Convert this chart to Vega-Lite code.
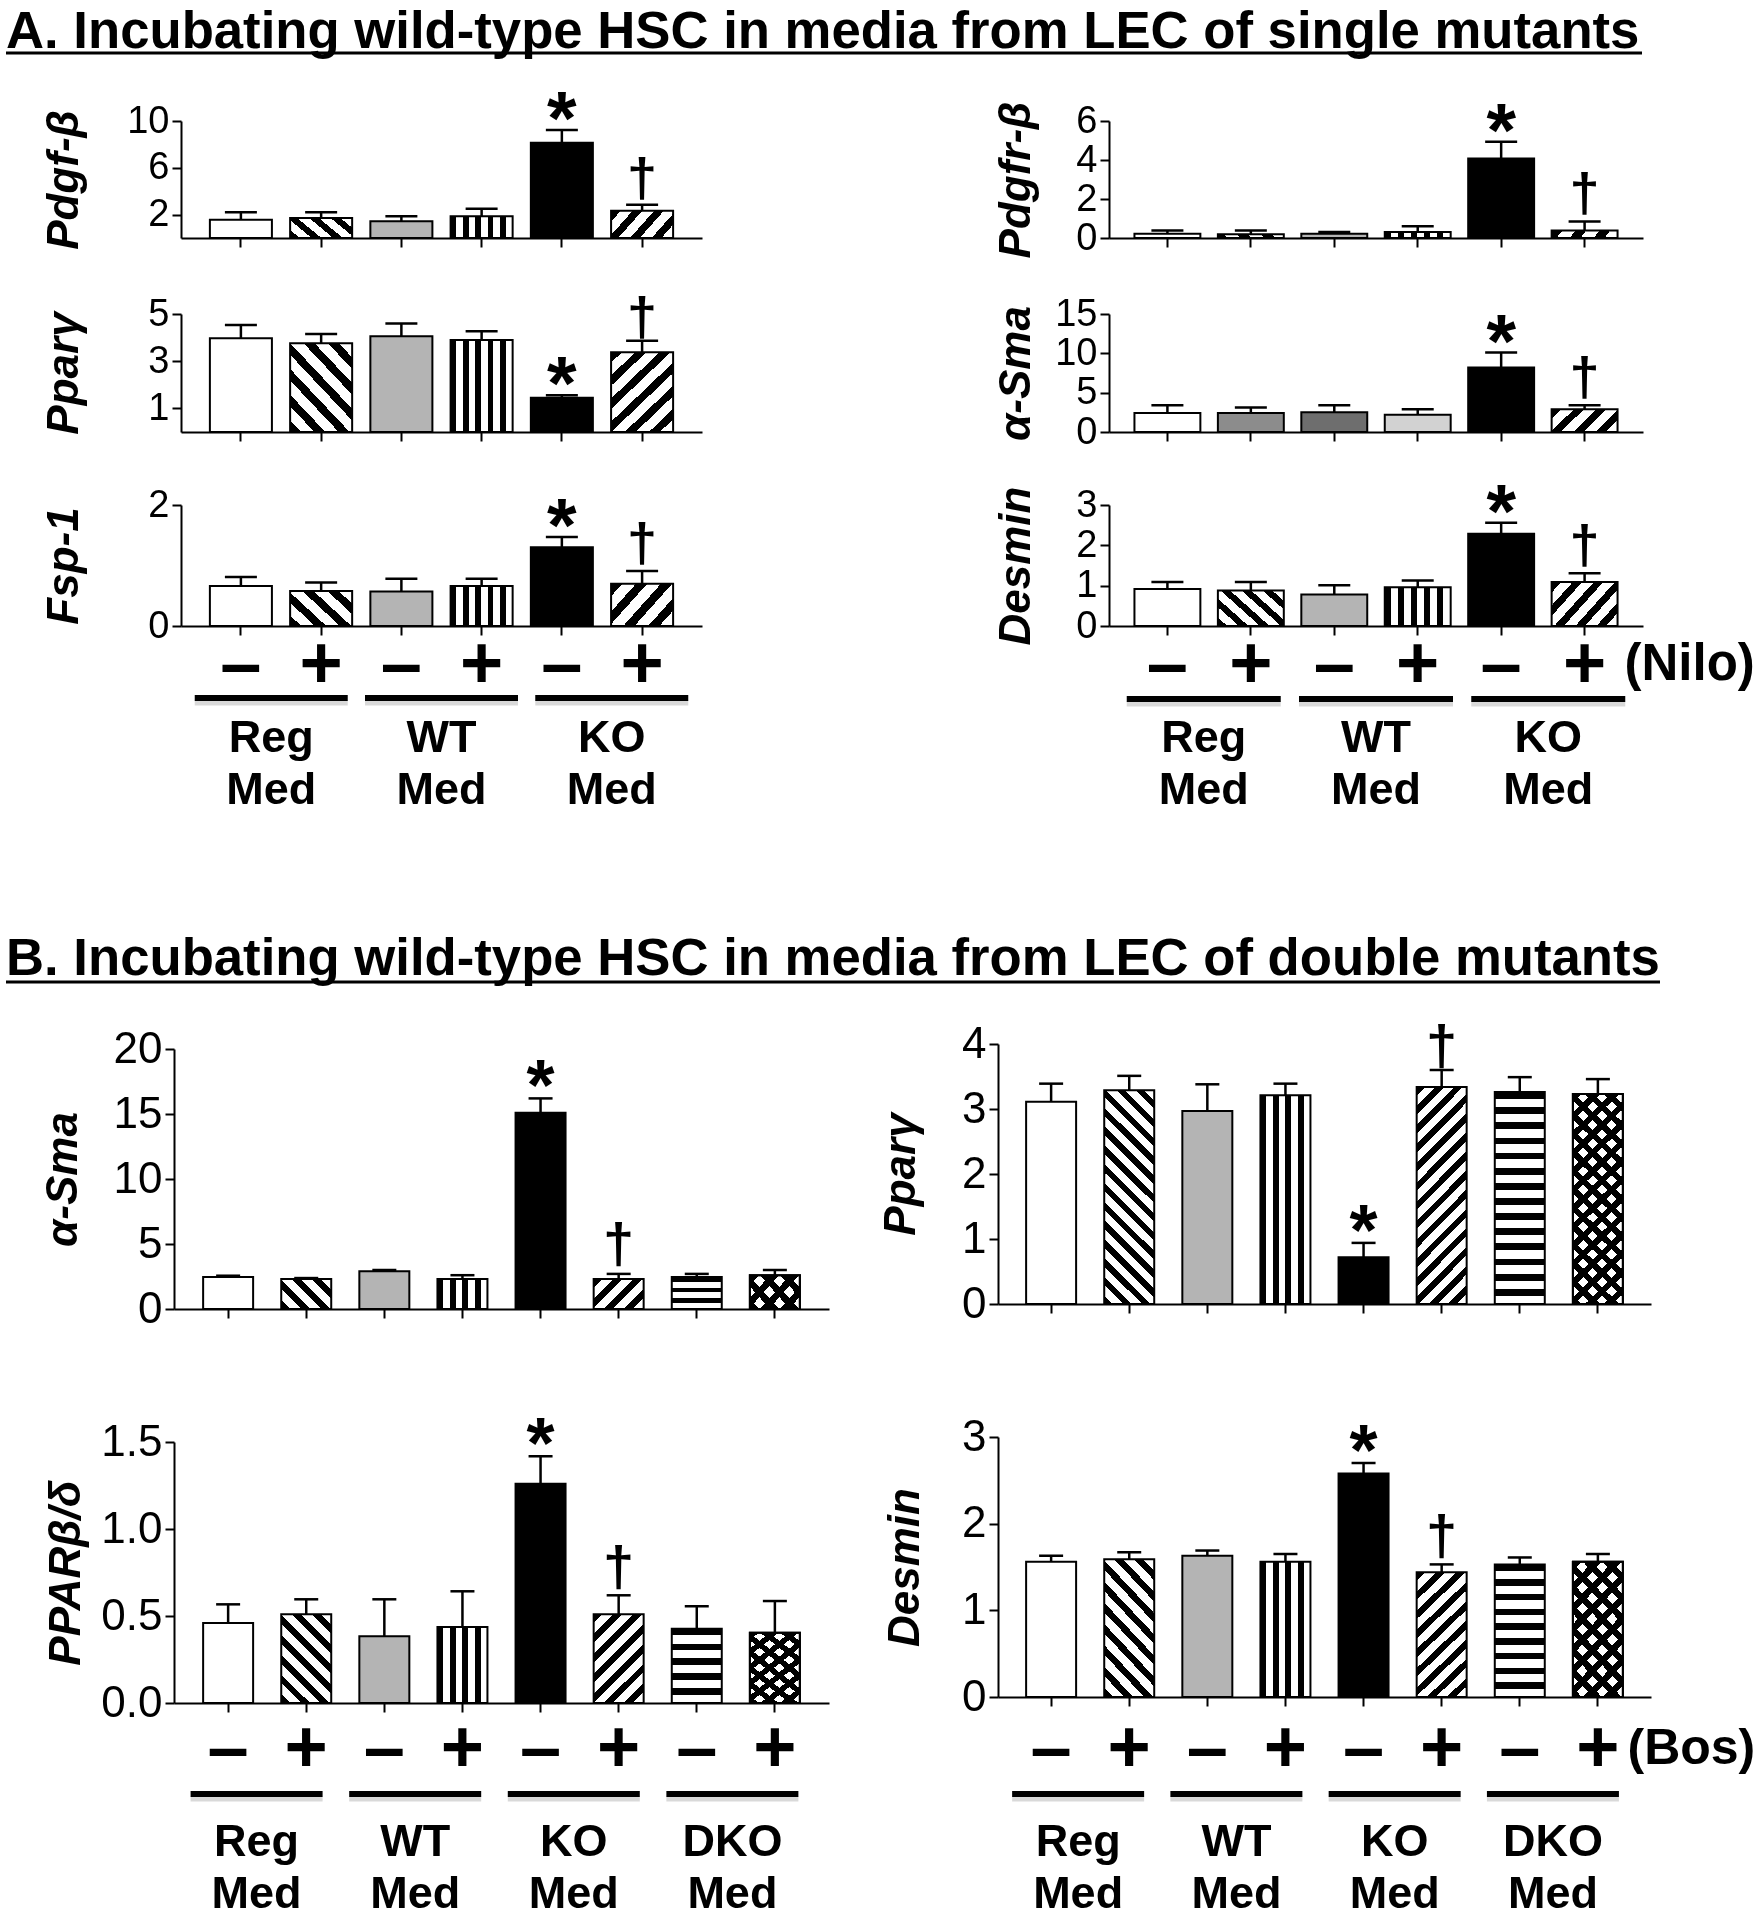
{
"$schema": "https://vega.github.io/schema/vega-lite/v6.json",
"width": 1760, "height": 1920,
"autosize": {"type": "none"},
"padding": 0,
"background": "#ffffff",
"config": {
  "view": {"stroke": null},
  "font": "Liberation Sans",
  "tick": {"opacity": 1},
  "axis": {"domainColor": "#000", "domainWidth": 2, "tickColor": "#000", "tickWidth": 2, "tickSize": 9, "labelColor": "#000", "titleColor": "#000", "grid": false, "labelFont": "Liberation Sans", "titleFont": "Liberation Sans", "labelOverlap": false},
  "axisY": {"titleFontSize": 44, "titleFontWeight": "bold", "titleFontStyle": "italic", "titleBaseline": "alphabetic", "labelFontSize": 38, "labelPadding": 3},
  "axisX": {"labelFontSize": 74, "labelFontWeight": "bold", "labelAngle": 0, "labelBaseline": "middle", "labelBound": false}
},
"params": [
  {"name": "s3", "value": [{"offset":0,"color":"#000"},{"offset":0.15,"color":"#000"},{"offset":0.15,"color":"#fff"},{"offset":0.3333,"color":"#fff"},{"offset":0.3333,"color":"#000"},{"offset":0.4833,"color":"#000"},{"offset":0.4833,"color":"#fff"},{"offset":0.6667,"color":"#fff"},{"offset":0.6667,"color":"#000"},{"offset":0.8167,"color":"#000"},{"offset":0.8167,"color":"#fff"},{"offset":1,"color":"#fff"}]},
  {"name": "s4", "value": [{"offset":0,"color":"#000"},{"offset":0.1125,"color":"#000"},{"offset":0.1125,"color":"#fff"},{"offset":0.25,"color":"#fff"},{"offset":0.25,"color":"#000"},{"offset":0.3625,"color":"#000"},{"offset":0.3625,"color":"#fff"},{"offset":0.5,"color":"#fff"},{"offset":0.5,"color":"#000"},{"offset":0.6125,"color":"#000"},{"offset":0.6125,"color":"#fff"},{"offset":0.75,"color":"#fff"},{"offset":0.75,"color":"#000"},{"offset":0.8625,"color":"#000"},{"offset":0.8625,"color":"#fff"},{"offset":1,"color":"#fff"}]},
  {"name": "s5", "value": [{"offset":0,"color":"#000"},{"offset":0.09,"color":"#000"},{"offset":0.09,"color":"#fff"},{"offset":0.2,"color":"#fff"},{"offset":0.2,"color":"#000"},{"offset":0.29,"color":"#000"},{"offset":0.29,"color":"#fff"},{"offset":0.4,"color":"#fff"},{"offset":0.4,"color":"#000"},{"offset":0.49,"color":"#000"},{"offset":0.49,"color":"#fff"},{"offset":0.6,"color":"#fff"},{"offset":0.6,"color":"#000"},{"offset":0.69,"color":"#000"},{"offset":0.69,"color":"#fff"},{"offset":0.8,"color":"#fff"},{"offset":0.8,"color":"#000"},{"offset":0.89,"color":"#000"},{"offset":0.89,"color":"#fff"},{"offset":1,"color":"#fff"}]},
  {"name": "s6", "value": [{"offset":0,"color":"#000"},{"offset":0.075,"color":"#000"},{"offset":0.075,"color":"#fff"},{"offset":0.1667,"color":"#fff"},{"offset":0.1667,"color":"#000"},{"offset":0.2417,"color":"#000"},{"offset":0.2417,"color":"#fff"},{"offset":0.3333,"color":"#fff"},{"offset":0.3333,"color":"#000"},{"offset":0.4083,"color":"#000"},{"offset":0.4083,"color":"#fff"},{"offset":0.5,"color":"#fff"},{"offset":0.5,"color":"#000"},{"offset":0.575,"color":"#000"},{"offset":0.575,"color":"#fff"},{"offset":0.6667,"color":"#fff"},{"offset":0.6667,"color":"#000"},{"offset":0.7417,"color":"#000"},{"offset":0.7417,"color":"#fff"},{"offset":0.8333,"color":"#fff"},{"offset":0.8333,"color":"#000"},{"offset":0.9083,"color":"#000"},{"offset":0.9083,"color":"#fff"},{"offset":1,"color":"#fff"}]},
  {"name": "s7", "value": [{"offset":0,"color":"#000"},{"offset":0.0643,"color":"#000"},{"offset":0.0643,"color":"#fff"},{"offset":0.1429,"color":"#fff"},{"offset":0.1429,"color":"#000"},{"offset":0.2071,"color":"#000"},{"offset":0.2071,"color":"#fff"},{"offset":0.2857,"color":"#fff"},{"offset":0.2857,"color":"#000"},{"offset":0.35,"color":"#000"},{"offset":0.35,"color":"#fff"},{"offset":0.4286,"color":"#fff"},{"offset":0.4286,"color":"#000"},{"offset":0.4929,"color":"#000"},{"offset":0.4929,"color":"#fff"},{"offset":0.5714,"color":"#fff"},{"offset":0.5714,"color":"#000"},{"offset":0.6357,"color":"#000"},{"offset":0.6357,"color":"#fff"},{"offset":0.7143,"color":"#fff"},{"offset":0.7143,"color":"#000"},{"offset":0.7786,"color":"#000"},{"offset":0.7786,"color":"#fff"},{"offset":0.8571,"color":"#fff"},{"offset":0.8571,"color":"#000"},{"offset":0.9214,"color":"#000"},{"offset":0.9214,"color":"#fff"},{"offset":1,"color":"#fff"}]},
  {"name": "s9", "value": [{"offset":0,"color":"#000"},{"offset":0.05,"color":"#000"},{"offset":0.05,"color":"#fff"},{"offset":0.1111,"color":"#fff"},{"offset":0.1111,"color":"#000"},{"offset":0.1611,"color":"#000"},{"offset":0.1611,"color":"#fff"},{"offset":0.2222,"color":"#fff"},{"offset":0.2222,"color":"#000"},{"offset":0.2722,"color":"#000"},{"offset":0.2722,"color":"#fff"},{"offset":0.3333,"color":"#fff"},{"offset":0.3333,"color":"#000"},{"offset":0.3833,"color":"#000"},{"offset":0.3833,"color":"#fff"},{"offset":0.4444,"color":"#fff"},{"offset":0.4444,"color":"#000"},{"offset":0.4944,"color":"#000"},{"offset":0.4944,"color":"#fff"},{"offset":0.5556,"color":"#fff"},{"offset":0.5556,"color":"#000"},{"offset":0.6056,"color":"#000"},{"offset":0.6056,"color":"#fff"},{"offset":0.6667,"color":"#fff"},{"offset":0.6667,"color":"#000"},{"offset":0.7167,"color":"#000"},{"offset":0.7167,"color":"#fff"},{"offset":0.7778,"color":"#fff"},{"offset":0.7778,"color":"#000"},{"offset":0.8278,"color":"#000"},{"offset":0.8278,"color":"#fff"},{"offset":0.8889,"color":"#fff"},{"offset":0.8889,"color":"#000"},{"offset":0.9389,"color":"#000"},{"offset":0.9389,"color":"#fff"},{"offset":1,"color":"#fff"}]},
  {"name": "s14", "value": [{"offset":0,"color":"#000"},{"offset":0.0321,"color":"#000"},{"offset":0.0321,"color":"#fff"},{"offset":0.0714,"color":"#fff"},{"offset":0.0714,"color":"#000"},{"offset":0.1036,"color":"#000"},{"offset":0.1036,"color":"#fff"},{"offset":0.1429,"color":"#fff"},{"offset":0.1429,"color":"#000"},{"offset":0.175,"color":"#000"},{"offset":0.175,"color":"#fff"},{"offset":0.2143,"color":"#fff"},{"offset":0.2143,"color":"#000"},{"offset":0.2464,"color":"#000"},{"offset":0.2464,"color":"#fff"},{"offset":0.2857,"color":"#fff"},{"offset":0.2857,"color":"#000"},{"offset":0.3179,"color":"#000"},{"offset":0.3179,"color":"#fff"},{"offset":0.3571,"color":"#fff"},{"offset":0.3571,"color":"#000"},{"offset":0.3893,"color":"#000"},{"offset":0.3893,"color":"#fff"},{"offset":0.4286,"color":"#fff"},{"offset":0.4286,"color":"#000"},{"offset":0.4607,"color":"#000"},{"offset":0.4607,"color":"#fff"},{"offset":0.5,"color":"#fff"},{"offset":0.5,"color":"#000"},{"offset":0.5321,"color":"#000"},{"offset":0.5321,"color":"#fff"},{"offset":0.5714,"color":"#fff"},{"offset":0.5714,"color":"#000"},{"offset":0.6036,"color":"#000"},{"offset":0.6036,"color":"#fff"},{"offset":0.6429,"color":"#fff"},{"offset":0.6429,"color":"#000"},{"offset":0.675,"color":"#000"},{"offset":0.675,"color":"#fff"},{"offset":0.7143,"color":"#fff"},{"offset":0.7143,"color":"#000"},{"offset":0.7464,"color":"#000"},{"offset":0.7464,"color":"#fff"},{"offset":0.7857,"color":"#fff"},{"offset":0.7857,"color":"#000"},{"offset":0.8179,"color":"#000"},{"offset":0.8179,"color":"#fff"},{"offset":0.8571,"color":"#fff"},{"offset":0.8571,"color":"#000"},{"offset":0.8893,"color":"#000"},{"offset":0.8893,"color":"#fff"},{"offset":0.9286,"color":"#fff"},{"offset":0.9286,"color":"#000"},{"offset":0.9607,"color":"#000"},{"offset":0.9607,"color":"#fff"},{"offset":1,"color":"#fff"}]},
  {"name": "vA", "expr": "{gradient:'linear',x1:0,y1:0,x2:1,y2:0,stops:s5}"},
  {"name": "vB", "expr": "{gradient:'linear',x1:0,y1:0,x2:1,y2:0,stops:s4}"},
  {"name": "dA1L", "expr": "{gradient:'linear',x1:0,y1:1,x2:1.207,y2:0.529,stops:s4}"},
  {"name": "uA1L", "expr": "{gradient:'linear',x1:0,y1:0,x2:1.207,y2:0.471,stops:s4}"},
  {"name": "dA2L", "expr": "{gradient:'linear',x1:0,y1:1,x2:0.833,y2:-0.124,stops:s6}"},
  {"name": "uA2L", "expr": "{gradient:'linear',x1:0,y1:0,x2:0.833,y2:1.124,stops:s6}"},
  {"name": "dA3L", "expr": "{gradient:'linear',x1:0,y1:1,x2:1.173,y2:0.284,stops:s4}"},
  {"name": "uA3L", "expr": "{gradient:'linear',x1:0,y1:0,x2:1.173,y2:0.716,stops:s4}"},
  {"name": "dA1R", "expr": "{gradient:'linear',x1:0,y1:1,x2:1.081,y2:0.903,stops:s3}"},
  {"name": "uA1R", "expr": "{gradient:'linear',x1:0,y1:0,x2:1.081,y2:0.097,stops:s3}"},
  {"name": "uA2R", "expr": "{gradient:'linear',x1:0,y1:0,x2:1.203,y2:0.421,stops:s4}"},
  {"name": "dA3R", "expr": "{gradient:'linear',x1:0,y1:1,x2:1.176,y2:0.294,stops:s5}"},
  {"name": "uA3R", "expr": "{gradient:'linear',x1:0,y1:0,x2:1.176,y2:0.706,stops:s5}"},
  {"name": "dB1L", "expr": "{gradient:'linear',x1:0,y1:1,x2:1.176,y2:0.294,stops:s4}"},
  {"name": "uB1L", "expr": "{gradient:'linear',x1:0,y1:0,x2:1.176,y2:0.706,stops:s4}"},
  {"name": "hB1L", "expr": "{gradient:'linear',x1:0.5,y1:0,x2:0.5,y2:1,stops:s3}"},
  {"name": "dB1R", "expr": "{gradient:'linear',x1:0,y1:1,x2:0.272,y2:-0.169,stops:s14}"},
  {"name": "uB1R", "expr": "{gradient:'linear',x1:0,y1:0,x2:0.272,y2:1.169,stops:s14}"},
  {"name": "hB1R", "expr": "{gradient:'linear',x1:0.5,y1:0,x2:0.5,y2:1,stops:s14}"},
  {"name": "dB2L", "expr": "{gradient:'linear',x1:0,y1:1,x2:0.667,y2:-0.187,stops:s7}"},
  {"name": "uB2L", "expr": "{gradient:'linear',x1:0,y1:0,x2:0.667,y2:1.187,stops:s7}"},
  {"name": "hB2L", "expr": "{gradient:'linear',x1:0.5,y1:0,x2:0.5,y2:1,stops:s5}"},
  {"name": "dB2R", "expr": "{gradient:'linear',x1:0,y1:1,x2:0.464,y2:-0.206,stops:s9}"},
  {"name": "uB2R", "expr": "{gradient:'linear',x1:0,y1:0,x2:0.464,y2:1.206,stops:s9}"},
  {"name": "hB2R", "expr": "{gradient:'linear',x1:0.5,y1:0,x2:0.5,y2:1,stops:s9}"}
],
"datasets": {
  "titles": [
    {"sec": "A", "txt": "A. Incubating wild-type HSC in media from LEC of single mutants"},
    {"sec": "B", "txt": "B. Incubating wild-type HSC in media from LEC of double mutants"}
  ],
  "groups": [
    {"sec": "A", "g": "Reg", "lab": "Reg\nMed"},
    {"sec": "A", "g": "WT", "lab": "WT\nMed"},
    {"sec": "A", "g": "KO", "lab": "KO\nMed"},
    {"sec": "B", "g": "Reg", "lab": "Reg\nMed"},
    {"sec": "B", "g": "WT", "lab": "WT\nMed"},
    {"sec": "B", "g": "KO", "lab": "KO\nMed"},
    {"sec": "B", "g": "DKO", "lab": "DKO\nMed"}
  ],
  "bars": [
    {"p":"A1L","c":"Reg-","m":1.57,"e":2.2,"s":""},
    {"p":"A1L","c":"Reg+","m":1.71,"e":2.2,"s":""},
    {"p":"A1L","c":"WT-","m":1.43,"e":1.85,"s":""},
    {"p":"A1L","c":"WT+","m":1.85,"e":2.5,"s":""},
    {"p":"A1L","c":"KO-","m":8.15,"e":9.24,"s":"*"},
    {"p":"A1L","c":"KO+","m":2.33,"e":2.84,"s":"†"},
    {"p":"A2L","c":"Reg-","m":3.97,"e":4.53,"s":""},
    {"p":"A2L","c":"Reg+","m":3.76,"e":4.15,"s":""},
    {"p":"A2L","c":"WT-","m":4.06,"e":4.6,"s":""},
    {"p":"A2L","c":"WT+","m":3.9,"e":4.27,"s":""},
    {"p":"A2L","c":"KO-","m":1.45,"e":1.56,"s":"*"},
    {"p":"A2L","c":"KO+","m":3.38,"e":3.87,"s":"†"},
    {"p":"A3L","c":"Reg-","m":0.66,"e":0.81,"s":""},
    {"p":"A3L","c":"Reg+","m":0.58,"e":0.72,"s":""},
    {"p":"A3L","c":"WT-","m":0.57,"e":0.78,"s":""},
    {"p":"A3L","c":"WT+","m":0.66,"e":0.78,"s":""},
    {"p":"A3L","c":"KO-","m":1.3,"e":1.47,"s":"*"},
    {"p":"A3L","c":"KO+","m":0.7,"e":0.91,"s":"†"},
    {"p":"A1R","c":"Reg-","m":0.22,"e":0.39,"s":""},
    {"p":"A1R","c":"Reg+","m":0.19,"e":0.39,"s":""},
    {"p":"A1R","c":"WT-","m":0.22,"e":0.31,"s":""},
    {"p":"A1R","c":"WT+","m":0.31,"e":0.6,"s":""},
    {"p":"A1R","c":"KO-","m":4.08,"e":4.93,"s":"*"},
    {"p":"A1R","c":"KO+","m":0.39,"e":0.85,"s":"†"},
    {"p":"A2R","c":"Reg-","m":2.4,"e":3.4,"s":""},
    {"p":"A2R","c":"Reg+","m":2.4,"e":3.1,"s":""},
    {"p":"A2R","c":"WT-","m":2.5,"e":3.4,"s":""},
    {"p":"A2R","c":"WT+","m":2.2,"e":2.9,"s":""},
    {"p":"A2R","c":"KO-","m":8.2,"e":10.1,"s":"*"},
    {"p":"A2R","c":"KO+","m":2.9,"e":3.4,"s":"†"},
    {"p":"A3R","c":"Reg-","m":0.92,"e":1.09,"s":""},
    {"p":"A3R","c":"Reg+","m":0.88,"e":1.09,"s":""},
    {"p":"A3R","c":"WT-","m":0.78,"e":1.01,"s":""},
    {"p":"A3R","c":"WT+","m":0.96,"e":1.13,"s":""},
    {"p":"A3R","c":"KO-","m":2.29,"e":2.56,"s":"*"},
    {"p":"A3R","c":"KO+","m":1.09,"e":1.31,"s":"†"},
    {"p":"B1L","c":"Reg-","m":2.46,"e":2.56,"s":""},
    {"p":"B1L","c":"Reg+","m":2.31,"e":2.38,"s":""},
    {"p":"B1L","c":"WT-","m":2.9,"e":3.0,"s":""},
    {"p":"B1L","c":"WT+","m":2.31,"e":2.6,"s":""},
    {"p":"B1L","c":"KO-","m":15.1,"e":16.2,"s":"*"},
    {"p":"B1L","c":"KO+","m":2.31,"e":2.7,"s":"†"},
    {"p":"B1L","c":"DKO-","m":2.46,"e":2.7,"s":""},
    {"p":"B1L","c":"DKO+","m":2.6,"e":3.0,"s":""},
    {"p":"B1R","c":"Reg-","m":3.11,"e":3.39,"s":""},
    {"p":"B1R","c":"Reg+","m":3.29,"e":3.51,"s":""},
    {"p":"B1R","c":"WT-","m":2.97,"e":3.38,"s":""},
    {"p":"B1R","c":"WT+","m":3.21,"e":3.39,"s":""},
    {"p":"B1R","c":"KO-","m":0.72,"e":0.94,"s":"*"},
    {"p":"B1R","c":"KO+","m":3.34,"e":3.6,"s":"†"},
    {"p":"B1R","c":"DKO-","m":3.26,"e":3.49,"s":""},
    {"p":"B1R","c":"DKO+","m":3.23,"e":3.46,"s":""},
    {"p":"B2L","c":"Reg-","m":0.46,"e":0.567,"s":""},
    {"p":"B2L","c":"Reg+","m":0.51,"e":0.596,"s":""},
    {"p":"B2L","c":"WT-","m":0.383,"e":0.596,"s":""},
    {"p":"B2L","c":"WT+","m":0.437,"e":0.642,"s":""},
    {"p":"B2L","c":"KO-","m":1.26,"e":1.418,"s":"*"},
    {"p":"B2L","c":"KO+","m":0.51,"e":0.619,"s":"†"},
    {"p":"B2L","c":"DKO-","m":0.427,"e":0.556,"s":""},
    {"p":"B2L","c":"DKO+","m":0.404,"e":0.586,"s":""},
    {"p":"B2R","c":"Reg-","m":1.56,"e":1.63,"s":""},
    {"p":"B2R","c":"Reg+","m":1.59,"e":1.67,"s":""},
    {"p":"B2R","c":"WT-","m":1.63,"e":1.69,"s":""},
    {"p":"B2R","c":"WT+","m":1.56,"e":1.65,"s":""},
    {"p":"B2R","c":"KO-","m":2.58,"e":2.7,"s":"*"},
    {"p":"B2R","c":"KO+","m":1.44,"e":1.53,"s":"†"},
    {"p":"B2R","c":"DKO-","m":1.53,"e":1.61,"s":""},
    {"p":"B2R","c":"DKO+","m":1.56,"e":1.65,"s":""}
  ]
},
"resolve": {"scale": {"x": "independent", "y": "independent"}, "axis": {"x": "independent", "y": "independent"}},
"layer": [
  {
    "data": {"name": "titles"},
    "transform": [{"filter": "datum.sec==='A'"}],
    "encoding": {
      "x": {"datum": 0, "type": "quantitative", "scale": {"domain": [0, 1], "range": [6, 1642], "nice": false, "zero": false}, "axis": null},
      "y": {"datum": 0, "type": "quantitative", "scale": {"domain": [0, 1], "range": [53, 0], "nice": false}, "axis": null}
    },
    "layer": [
      {"mark": {"type": "text", "align": "left", "baseline": "alphabetic", "dy": -5, "fontSize": 52.7, "fontWeight": "bold"}, "encoding": {"text": {"field": "txt"}}},
      {"mark": {"type": "rule", "strokeWidth": 3, "color": "#000"}, "encoding": {"x2": {"datum": 1}}}
    ]
  },
  {
    "data": {"name": "titles"},
    "transform": [{"filter": "datum.sec==='B'"}],
    "encoding": {
      "x": {"datum": 0, "type": "quantitative", "scale": {"domain": [0, 1], "range": [6, 1660], "nice": false, "zero": false}, "axis": null},
      "y": {"datum": 0, "type": "quantitative", "scale": {"domain": [0, 1], "range": [982, 930], "nice": false}, "axis": null}
    },
    "layer": [
      {"mark": {"type": "text", "align": "left", "baseline": "alphabetic", "dy": -7, "fontSize": 52.7, "fontWeight": "bold"}, "encoding": {"text": {"field": "txt"}}},
      {"mark": {"type": "rule", "strokeWidth": 3, "color": "#000"}, "encoding": {"x2": {"datum": 1}}}
    ]
  },
  {
    "data": {"name": "bars"},
    "transform": [{"filter": "datum.p==='A1L'"}],
    "encoding": {
      "x": {"field": "c", "type": "nominal", "scale": {"domain": ["Reg-","Reg+","WT-","WT+","KO-","KO+"], "range": [181, 702], "paddingInner": 0.227, "paddingOuter": 0.36}, "axis": {"orient": "bottom", "offset": -1682, "labels": false, "title": null}},
      "y": {"field": "m", "type": "quantitative", "scale": {"domain": [0, 10], "range": [238, 121], "nice": false}, "axis": {"orient": "left", "offset": -181, "values": [2, 6, 10], "format": "d", "title": "Pdgf-β", "titleX": -104, "titleY": 179.5}}
    },
    "layer": [
      {"mark": {"type": "rule", "color": "#000", "strokeWidth": 2.5}, "encoding": {"y2": {"field": "e"}}},
      {"mark": {"type": "bar", "stroke": "#000", "strokeWidth": 2}, "encoding": {"fill": {"condition": [
        {"test": "datum.c==='Reg+'", "value": {"expr": "dA1L"}},
        {"test": "datum.c==='WT-'", "value": "#b4b4b4"},
        {"test": "datum.c==='WT+'", "value": {"expr": "vA"}},
        {"test": "datum.c==='KO-'", "value": "#000"},
        {"test": "datum.c==='KO+'", "value": {"expr": "uA1L"}}], "value": "#fff"}}},
      {"mark": {"type": "tick", "orient": "horizontal", "size": 32, "thickness": 2.5, "color": "#000"}, "encoding": {"y": {"field": "e", "type": "quantitative"}}},
      {"transform": [{"filter": "datum.s==='*'"}], "mark": {"type": "text", "text": "*", "fontSize": 76, "fontWeight": "bold", "baseline": "alphabetic", "dy": 14}, "encoding": {"y": {"field": "e", "type": "quantitative"}}},
      {"transform": [{"filter": "datum.s==='†'"}], "mark": {"type": "text", "text": "†", "fontSize": 54, "fontWeight": "bold", "baseline": "alphabetic", "dy": -9}, "encoding": {"y": {"field": "e", "type": "quantitative"}}}
    ]
  },
  {
    "data": {"name": "bars"},
    "transform": [{"filter": "datum.p==='A2L'"}],
    "encoding": {
      "x": {"field": "c", "type": "nominal", "scale": {"domain": ["Reg-","Reg+","WT-","WT+","KO-","KO+"], "range": [181, 702], "paddingInner": 0.227, "paddingOuter": 0.36}, "axis": {"orient": "bottom", "offset": -1488, "labels": false, "title": null}},
      "y": {"field": "m", "type": "quantitative", "scale": {"domain": [0, 5], "range": [432, 314], "nice": false}, "axis": {"orient": "left", "offset": -181, "values": [1, 3, 5], "format": "d", "title": "Pparγ", "titleX": -104, "titleY": 373}}
    },
    "layer": [
      {"mark": {"type": "rule", "color": "#000", "strokeWidth": 2.5}, "encoding": {"y2": {"field": "e"}}},
      {"mark": {"type": "bar", "stroke": "#000", "strokeWidth": 2}, "encoding": {"fill": {"condition": [
        {"test": "datum.c==='Reg+'", "value": {"expr": "dA2L"}},
        {"test": "datum.c==='WT-'", "value": "#b4b4b4"},
        {"test": "datum.c==='WT+'", "value": {"expr": "vA"}},
        {"test": "datum.c==='KO-'", "value": "#000"},
        {"test": "datum.c==='KO+'", "value": {"expr": "uA2L"}}], "value": "#fff"}}},
      {"mark": {"type": "tick", "orient": "horizontal", "size": 32, "thickness": 2.5, "color": "#000"}, "encoding": {"y": {"field": "e", "type": "quantitative"}}},
      {"transform": [{"filter": "datum.s==='*'"}], "mark": {"type": "text", "text": "*", "fontSize": 76, "fontWeight": "bold", "baseline": "alphabetic", "dy": 14}, "encoding": {"y": {"field": "e", "type": "quantitative"}}},
      {"transform": [{"filter": "datum.s==='†'"}], "mark": {"type": "text", "text": "†", "fontSize": 54, "fontWeight": "bold", "baseline": "alphabetic", "dy": -6}, "encoding": {"y": {"field": "e", "type": "quantitative"}}}
    ]
  },
  {
    "data": {"name": "bars"},
    "transform": [{"filter": "datum.p==='A3L'"}],
    "encoding": {
      "x": {"field": "c", "type": "nominal", "scale": {"domain": ["Reg-","Reg+","WT-","WT+","KO-","KO+"], "range": [181, 702], "paddingInner": 0.227, "paddingOuter": 0.36}, "axis": {"orient": "bottom", "offset": -1294, "labels": true, "labelExpr": "indexof(datum.value,'+')>=0 ? '+' : '–'", "labelPadding": 30, "title": null}},
      "y": {"field": "m", "type": "quantitative", "scale": {"domain": [0, 2], "range": [626, 505], "nice": false}, "axis": {"orient": "left", "offset": -181, "values": [0, 1, 2], "format": "d", "title": "Fsp-1", "titleX": -104, "titleY": 565.5}}
    },
    "layer": [
      {"mark": {"type": "rule", "color": "#000", "strokeWidth": 2.5}, "encoding": {"y2": {"field": "e"}}},
      {"mark": {"type": "bar", "stroke": "#000", "strokeWidth": 2}, "encoding": {"fill": {"condition": [
        {"test": "datum.c==='Reg+'", "value": {"expr": "dA3L"}},
        {"test": "datum.c==='WT-'", "value": "#b4b4b4"},
        {"test": "datum.c==='WT+'", "value": {"expr": "vA"}},
        {"test": "datum.c==='KO-'", "value": "#000"},
        {"test": "datum.c==='KO+'", "value": {"expr": "uA3L"}}], "value": "#fff"}}},
      {"mark": {"type": "tick", "orient": "horizontal", "size": 32, "thickness": 2.5, "color": "#000"}, "encoding": {"y": {"field": "e", "type": "quantitative"}}},
      {"transform": [{"filter": "datum.s==='*'"}], "mark": {"type": "text", "text": "*", "fontSize": 76, "fontWeight": "bold", "baseline": "alphabetic", "dy": 14}, "encoding": {"y": {"field": "e", "type": "quantitative"}}},
      {"transform": [{"filter": "datum.s==='†'"}], "mark": {"type": "text", "text": "†", "fontSize": 54, "fontWeight": "bold", "baseline": "alphabetic", "dy": -10}, "encoding": {"y": {"field": "e", "type": "quantitative"}}}
    ]
  },
  {
    "data": {"name": "bars"},
    "transform": [{"filter": "datum.p==='A1R'"}],
    "encoding": {
      "x": {"field": "c", "type": "nominal", "scale": {"domain": ["Reg-","Reg+","WT-","WT+","KO-","KO+"], "range": [1109, 1643], "paddingInner": 0.21, "paddingOuter": 0.305}, "axis": {"orient": "bottom", "offset": -1682, "labels": false, "title": null}},
      "y": {"field": "m", "type": "quantitative", "scale": {"domain": [0, 6], "range": [238, 121], "nice": false}, "axis": {"orient": "left", "offset": -1109, "values": [0, 2, 4, 6], "format": "d", "title": "Pdgfr-β", "titleX": -80, "titleY": 179.5}}
    },
    "layer": [
      {"mark": {"type": "rule", "color": "#000", "strokeWidth": 2.5}, "encoding": {"y2": {"field": "e"}}},
      {"mark": {"type": "bar", "stroke": "#000", "strokeWidth": 2}, "encoding": {"fill": {"condition": [
        {"test": "datum.c==='Reg+'", "value": {"expr": "dA1R"}},
        {"test": "datum.c==='WT-'", "value": "#b4b4b4"},
        {"test": "datum.c==='WT+'", "value": {"expr": "vA"}},
        {"test": "datum.c==='KO-'", "value": "#000"},
        {"test": "datum.c==='KO+'", "value": {"expr": "uA1R"}}], "value": "#fff"}}},
      {"mark": {"type": "tick", "orient": "horizontal", "size": 32, "thickness": 2.5, "color": "#000"}, "encoding": {"y": {"field": "e", "type": "quantitative"}}},
      {"transform": [{"filter": "datum.s==='*'"}], "mark": {"type": "text", "text": "*", "fontSize": 76, "fontWeight": "bold", "baseline": "alphabetic", "dy": 14}, "encoding": {"y": {"field": "e", "type": "quantitative"}}},
      {"transform": [{"filter": "datum.s==='†'"}], "mark": {"type": "text", "text": "†", "fontSize": 54, "fontWeight": "bold", "baseline": "alphabetic", "dy": -10}, "encoding": {"y": {"field": "e", "type": "quantitative"}}}
    ]
  },
  {
    "data": {"name": "bars"},
    "transform": [{"filter": "datum.p==='A2R'"}],
    "encoding": {
      "x": {"field": "c", "type": "nominal", "scale": {"domain": ["Reg-","Reg+","WT-","WT+","KO-","KO+"], "range": [1109, 1643], "paddingInner": 0.21, "paddingOuter": 0.305}, "axis": {"orient": "bottom", "offset": -1488, "labels": false, "title": null}},
      "y": {"field": "m", "type": "quantitative", "scale": {"domain": [0, 15], "range": [432, 314], "nice": false}, "axis": {"orient": "left", "offset": -1109, "values": [0, 5, 10, 15], "format": "d", "title": "α-Sma", "titleX": -80, "titleY": 373}}
    },
    "layer": [
      {"mark": {"type": "rule", "color": "#000", "strokeWidth": 2.5}, "encoding": {"y2": {"field": "e"}}},
      {"mark": {"type": "bar", "stroke": "#000", "strokeWidth": 2}, "encoding": {"fill": {"condition": [
        {"test": "datum.c==='Reg+'", "value": "#8c8c8c"},
        {"test": "datum.c==='WT-'", "value": "#6e6e6e"},
        {"test": "datum.c==='WT+'", "value": "#d2d2d2"},
        {"test": "datum.c==='KO-'", "value": "#000"},
        {"test": "datum.c==='KO+'", "value": {"expr": "uA2R"}}], "value": "#fff"}}},
      {"mark": {"type": "tick", "orient": "horizontal", "size": 32, "thickness": 2.5, "color": "#000"}, "encoding": {"y": {"field": "e", "type": "quantitative"}}},
      {"transform": [{"filter": "datum.s==='*'"}], "mark": {"type": "text", "text": "*", "fontSize": 76, "fontWeight": "bold", "baseline": "alphabetic", "dy": 14}, "encoding": {"y": {"field": "e", "type": "quantitative"}}},
      {"transform": [{"filter": "datum.s==='†'"}], "mark": {"type": "text", "text": "†", "fontSize": 54, "fontWeight": "bold", "baseline": "alphabetic", "dy": -10}, "encoding": {"y": {"field": "e", "type": "quantitative"}}}
    ]
  },
  {
    "data": {"name": "bars"},
    "transform": [{"filter": "datum.p==='A3R'"}],
    "encoding": {
      "x": {"field": "c", "type": "nominal", "scale": {"domain": ["Reg-","Reg+","WT-","WT+","KO-","KO+"], "range": [1109, 1643], "paddingInner": 0.21, "paddingOuter": 0.305}, "axis": {"orient": "bottom", "offset": -1294, "labels": true, "labelExpr": "indexof(datum.value,'+')>=0 ? '+' : '–'", "labelPadding": 30, "title": "(Nilo)", "titleX": 1624, "titleY": 38, "titleAlign": "left", "titleBaseline": "middle", "titleAngle": 0, "titleFontSize": 51, "titleFontWeight": "bold"}},
      "y": {"field": "m", "type": "quantitative", "scale": {"domain": [0, 3], "range": [626, 505], "nice": false}, "axis": {"orient": "left", "offset": -1109, "values": [0, 1, 2, 3], "format": "d", "title": "Desmin", "titleX": -80, "titleY": 565.5}}
    },
    "layer": [
      {"mark": {"type": "rule", "color": "#000", "strokeWidth": 2.5}, "encoding": {"y2": {"field": "e"}}},
      {"mark": {"type": "bar", "stroke": "#000", "strokeWidth": 2}, "encoding": {"fill": {"condition": [
        {"test": "datum.c==='Reg+'", "value": {"expr": "dA3R"}},
        {"test": "datum.c==='WT-'", "value": "#b4b4b4"},
        {"test": "datum.c==='WT+'", "value": {"expr": "vA"}},
        {"test": "datum.c==='KO-'", "value": "#000"},
        {"test": "datum.c==='KO+'", "value": {"expr": "uA3R"}}], "value": "#fff"}}},
      {"mark": {"type": "tick", "orient": "horizontal", "size": 32, "thickness": 2.5, "color": "#000"}, "encoding": {"y": {"field": "e", "type": "quantitative"}}},
      {"transform": [{"filter": "datum.s==='*'"}], "mark": {"type": "text", "text": "*", "fontSize": 76, "fontWeight": "bold", "baseline": "alphabetic", "dy": 14}, "encoding": {"y": {"field": "e", "type": "quantitative"}}},
      {"transform": [{"filter": "datum.s==='†'"}], "mark": {"type": "text", "text": "†", "fontSize": 54, "fontWeight": "bold", "baseline": "alphabetic", "dy": -10}, "encoding": {"y": {"field": "e", "type": "quantitative"}}}
    ]
  },
  {
    "data": {"name": "bars"},
    "transform": [{"filter": "datum.p==='B1L'"}],
    "encoding": {
      "x": {"field": "c", "type": "nominal", "scale": {"domain": ["Reg-","Reg+","WT-","WT+","KO-","KO+","DKO-","DKO+"], "range": [174, 829], "paddingInner": 0.36, "paddingOuter": 0.373}, "axis": {"orient": "bottom", "offset": -611, "labels": false, "title": null}},
      "y": {"field": "m", "type": "quantitative", "scale": {"domain": [0, 20], "range": [1309, 1049], "nice": false}, "axis": {"orient": "left", "offset": -174, "values": [0, 5, 10, 15, 20], "format": "d", "labelFontSize": 44, "title": "α-Sma", "titleX": -98, "titleY": 1179}}
    },
    "layer": [
      {"mark": {"type": "rule", "color": "#000", "strokeWidth": 2.5}, "encoding": {"y2": {"field": "e"}}},
      {"mark": {"type": "bar", "stroke": "#000", "strokeWidth": 2}, "encoding": {"fill": {"condition": [
        {"test": "datum.c==='Reg+'", "value": {"expr": "dB1L"}},
        {"test": "datum.c==='WT-'", "value": "#b4b4b4"},
        {"test": "datum.c==='WT+'", "value": {"expr": "vB"}},
        {"test": "datum.c==='KO-'", "value": "#000"},
        {"test": "datum.c==='KO+'", "value": {"expr": "uB1L"}},
        {"test": "datum.c==='DKO-'", "value": {"expr": "hB1L"}},
        {"test": "datum.c==='DKO+'", "value": {"expr": "dB1L"}}], "value": "#fff"}}},
      {"transform": [{"filter": "datum.c==='DKO+'"}], "mark": {"type": "bar", "stroke": "#000", "strokeWidth": 2, "fill": {"expr": "uB1L"}, "blend": "multiply"}},
      {"mark": {"type": "tick", "orient": "horizontal", "size": 24, "thickness": 2.5, "color": "#000"}, "encoding": {"y": {"field": "e", "type": "quantitative"}}},
      {"transform": [{"filter": "datum.s==='*'"}], "mark": {"type": "text", "text": "*", "fontSize": 72, "fontWeight": "bold", "baseline": "alphabetic", "dy": 12}, "encoding": {"y": {"field": "e", "type": "quantitative"}}},
      {"transform": [{"filter": "datum.s==='†'"}], "mark": {"type": "text", "text": "†", "fontSize": 56, "fontWeight": "bold", "baseline": "alphabetic", "dy": -12}, "encoding": {"y": {"field": "e", "type": "quantitative"}}}
    ]
  },
  {
    "data": {"name": "bars"},
    "transform": [{"filter": "datum.p==='B1R'"}],
    "encoding": {
      "x": {"field": "c", "type": "nominal", "scale": {"domain": ["Reg-","Reg+","WT-","WT+","KO-","KO+","DKO-","DKO+"], "range": [998, 1651], "paddingInner": 0.36, "paddingOuter": 0.36}, "axis": {"orient": "bottom", "offset": -616, "labels": false, "title": null}},
      "y": {"field": "m", "type": "quantitative", "scale": {"domain": [0, 4], "range": [1304, 1044], "nice": false}, "axis": {"orient": "left", "offset": -998, "values": [0, 1, 2, 3, 4], "format": "d", "labelFontSize": 44, "title": "Pparγ", "titleX": -84, "titleY": 1174}}
    },
    "layer": [
      {"mark": {"type": "rule", "color": "#000", "strokeWidth": 2.5}, "encoding": {"y2": {"field": "e"}}},
      {"mark": {"type": "bar", "stroke": "#000", "strokeWidth": 2}, "encoding": {"fill": {"condition": [
        {"test": "datum.c==='Reg+'", "value": {"expr": "dB1R"}},
        {"test": "datum.c==='WT-'", "value": "#b4b4b4"},
        {"test": "datum.c==='WT+'", "value": {"expr": "vB"}},
        {"test": "datum.c==='KO-'", "value": "#000"},
        {"test": "datum.c==='KO+'", "value": {"expr": "uB1R"}},
        {"test": "datum.c==='DKO-'", "value": {"expr": "hB1R"}},
        {"test": "datum.c==='DKO+'", "value": {"expr": "dB1R"}}], "value": "#fff"}}},
      {"transform": [{"filter": "datum.c==='DKO+'"}], "mark": {"type": "bar", "stroke": "#000", "strokeWidth": 2, "fill": {"expr": "uB1R"}, "blend": "multiply"}},
      {"mark": {"type": "tick", "orient": "horizontal", "size": 24, "thickness": 2.5, "color": "#000"}, "encoding": {"y": {"field": "e", "type": "quantitative"}}},
      {"transform": [{"filter": "datum.s==='*'"}], "mark": {"type": "text", "text": "*", "fontSize": 72, "fontWeight": "bold", "baseline": "alphabetic", "dy": 12}, "encoding": {"y": {"field": "e", "type": "quantitative"}}},
      {"transform": [{"filter": "datum.s==='†'"}], "mark": {"type": "text", "text": "†", "fontSize": 56, "fontWeight": "bold", "baseline": "alphabetic", "dy": -6}, "encoding": {"y": {"field": "e", "type": "quantitative"}}}
    ]
  },
  {
    "data": {"name": "bars"},
    "transform": [{"filter": "datum.p==='B2L'"}],
    "encoding": {
      "x": {"field": "c", "type": "nominal", "scale": {"domain": ["Reg-","Reg+","WT-","WT+","KO-","KO+","DKO-","DKO+"], "range": [174, 829], "paddingInner": 0.36, "paddingOuter": 0.373}, "axis": {"orient": "bottom", "offset": -217, "labels": true, "labelExpr": "indexof(datum.value,'+')>=0 ? '+' : '–'", "labelPadding": 37, "title": null}},
      "y": {"field": "m", "type": "quantitative", "scale": {"domain": [0, 1.5], "range": [1703, 1442], "nice": false}, "axis": {"orient": "left", "offset": -174, "values": [0, 0.5, 1, 1.5], "format": ".1f", "labelFontSize": 44, "title": "PPARβ/δ", "titleX": -95, "titleY": 1572.5}}
    },
    "layer": [
      {"mark": {"type": "rule", "color": "#000", "strokeWidth": 2.5}, "encoding": {"y2": {"field": "e"}}},
      {"mark": {"type": "bar", "stroke": "#000", "strokeWidth": 2}, "encoding": {"fill": {"condition": [
        {"test": "datum.c==='Reg+'", "value": {"expr": "dB2L"}},
        {"test": "datum.c==='WT-'", "value": "#b4b4b4"},
        {"test": "datum.c==='WT+'", "value": {"expr": "vB"}},
        {"test": "datum.c==='KO-'", "value": "#000"},
        {"test": "datum.c==='KO+'", "value": {"expr": "uB2L"}},
        {"test": "datum.c==='DKO-'", "value": {"expr": "hB2L"}},
        {"test": "datum.c==='DKO+'", "value": {"expr": "dB2L"}}], "value": "#fff"}}},
      {"transform": [{"filter": "datum.c==='DKO+'"}], "mark": {"type": "bar", "stroke": "#000", "strokeWidth": 2, "fill": {"expr": "uB2L"}, "blend": "multiply"}},
      {"mark": {"type": "tick", "orient": "horizontal", "size": 24, "thickness": 2.5, "color": "#000"}, "encoding": {"y": {"field": "e", "type": "quantitative"}}},
      {"transform": [{"filter": "datum.s==='*'"}], "mark": {"type": "text", "text": "*", "fontSize": 72, "fontWeight": "bold", "baseline": "alphabetic", "dy": 12}, "encoding": {"y": {"field": "e", "type": "quantitative"}}},
      {"transform": [{"filter": "datum.s==='†'"}], "mark": {"type": "text", "text": "†", "fontSize": 56, "fontWeight": "bold", "baseline": "alphabetic", "dy": -10}, "encoding": {"y": {"field": "e", "type": "quantitative"}}}
    ]
  },
  {
    "data": {"name": "bars"},
    "transform": [{"filter": "datum.p==='B2R'"}],
    "encoding": {
      "x": {"field": "c", "type": "nominal", "scale": {"domain": ["Reg-","Reg+","WT-","WT+","KO-","KO+","DKO-","DKO+"], "range": [998, 1651], "paddingInner": 0.36, "paddingOuter": 0.36}, "axis": {"orient": "bottom", "offset": -223, "labels": true, "labelExpr": "indexof(datum.value,'+')>=0 ? '+' : '–'", "labelPadding": 43, "title": "(Bos)", "titleX": 1627, "titleY": 51, "titleAlign": "left", "titleBaseline": "middle", "titleAngle": 0, "titleFontSize": 50, "titleFontWeight": "bold"}},
      "y": {"field": "m", "type": "quantitative", "scale": {"domain": [0, 3], "range": [1697, 1437], "nice": false}, "axis": {"orient": "left", "offset": -998, "values": [0, 1, 2, 3], "format": "d", "labelFontSize": 44, "title": "Desmin", "titleX": -80, "titleY": 1567}}
    },
    "layer": [
      {"mark": {"type": "rule", "color": "#000", "strokeWidth": 2.5}, "encoding": {"y2": {"field": "e"}}},
      {"mark": {"type": "bar", "stroke": "#000", "strokeWidth": 2}, "encoding": {"fill": {"condition": [
        {"test": "datum.c==='Reg+'", "value": {"expr": "dB2R"}},
        {"test": "datum.c==='WT-'", "value": "#b4b4b4"},
        {"test": "datum.c==='WT+'", "value": {"expr": "vB"}},
        {"test": "datum.c==='KO-'", "value": "#000"},
        {"test": "datum.c==='KO+'", "value": {"expr": "uB2R"}},
        {"test": "datum.c==='DKO-'", "value": {"expr": "hB2R"}},
        {"test": "datum.c==='DKO+'", "value": {"expr": "dB2R"}}], "value": "#fff"}}},
      {"transform": [{"filter": "datum.c==='DKO+'"}], "mark": {"type": "bar", "stroke": "#000", "strokeWidth": 2, "fill": {"expr": "uB2R"}, "blend": "multiply"}},
      {"mark": {"type": "tick", "orient": "horizontal", "size": 24, "thickness": 2.5, "color": "#000"}, "encoding": {"y": {"field": "e", "type": "quantitative"}}},
      {"transform": [{"filter": "datum.s==='*'"}], "mark": {"type": "text", "text": "*", "fontSize": 72, "fontWeight": "bold", "baseline": "alphabetic", "dy": 12}, "encoding": {"y": {"field": "e", "type": "quantitative"}}},
      {"transform": [{"filter": "datum.s==='†'"}], "mark": {"type": "text", "text": "†", "fontSize": 56, "fontWeight": "bold", "baseline": "alphabetic", "dy": -10}, "encoding": {"y": {"field": "e", "type": "quantitative"}}}
    ]
  },
  {
    "data": {"name": "groups"},
    "transform": [{"filter": "datum.sec==='A'"}],
    "encoding": {
      "x": {"field": "g", "type": "nominal", "scale": {"domain": ["Reg","WT","KO"], "range": [181, 702], "paddingInner": 0, "paddingOuter": 0.03}, "axis": null}
    },
    "layer": [
      {"mark": {"type": "tick", "orient": "horizontal", "size": 153, "thickness": 5, "color": "#d9d9d9", "yOffset": 5}, "encoding": {"y": {"datum": "line", "type": "nominal", "scale": {"type": "point", "domain": ["line","grp"], "range": [698, 752], "padding": 0}, "axis": null}}},
      {"mark": {"type": "tick", "orient": "horizontal", "size": 153, "thickness": 6, "color": "#000"}, "encoding": {"y": {"datum": "line", "type": "nominal"}}},
      {"mark": {"type": "text", "fontSize": 45, "fontWeight": "bold", "baseline": "alphabetic", "lineBreak": "\n", "lineHeight": 52}, "encoding": {"y": {"datum": "grp", "type": "nominal"}, "text": {"field": "lab"}}}
    ]
  },
  {
    "data": {"name": "groups"},
    "transform": [{"filter": "datum.sec==='A'"}],
    "encoding": {
      "x": {"field": "g", "type": "nominal", "scale": {"domain": ["Reg","WT","KO"], "range": [1109, 1643], "paddingInner": 0, "paddingOuter": 0.05}, "axis": null}
    },
    "layer": [
      {"mark": {"type": "tick", "orient": "horizontal", "size": 154, "thickness": 5, "color": "#d9d9d9", "yOffset": 5}, "encoding": {"y": {"datum": "line", "type": "nominal", "scale": {"type": "point", "domain": ["line","grp"], "range": [699, 752], "padding": 0}, "axis": null}}},
      {"mark": {"type": "tick", "orient": "horizontal", "size": 154, "thickness": 6, "color": "#000"}, "encoding": {"y": {"datum": "line", "type": "nominal"}}},
      {"mark": {"type": "text", "fontSize": 45, "fontWeight": "bold", "baseline": "alphabetic", "lineBreak": "\n", "lineHeight": 52}, "encoding": {"y": {"datum": "grp", "type": "nominal"}, "text": {"field": "lab"}}}
    ]
  },
  {
    "data": {"name": "groups"},
    "transform": [{"filter": "datum.sec==='B'"}],
    "encoding": {
      "x": {"field": "g", "type": "nominal", "scale": {"domain": ["Reg","WT","KO","DKO"], "range": [174, 829], "paddingInner": 0, "paddingOuter": 0.065, "align": 0.16}, "axis": null}
    },
    "layer": [
      {"mark": {"type": "tick", "orient": "horizontal", "size": 132, "thickness": 5, "color": "#d9d9d9", "yOffset": 5}, "encoding": {"y": {"datum": "line", "type": "nominal", "scale": {"type": "point", "domain": ["line","grp"], "range": [1794, 1856], "padding": 0}, "axis": null}}},
      {"mark": {"type": "tick", "orient": "horizontal", "size": 132, "thickness": 6, "color": "#000"}, "encoding": {"y": {"datum": "line", "type": "nominal"}}},
      {"mark": {"type": "text", "fontSize": 45, "fontWeight": "bold", "baseline": "alphabetic", "lineBreak": "\n", "lineHeight": 52}, "encoding": {"y": {"datum": "grp", "type": "nominal"}, "text": {"field": "lab"}}}
    ]
  },
  {
    "data": {"name": "groups"},
    "transform": [{"filter": "datum.sec==='B'"}],
    "encoding": {
      "x": {"field": "g", "type": "nominal", "scale": {"domain": ["Reg","WT","KO","DKO"], "range": [998, 1651], "paddingInner": 0, "paddingOuter": 0.063, "align": 0.05}, "axis": null}
    },
    "layer": [
      {"mark": {"type": "tick", "orient": "horizontal", "size": 132, "thickness": 5, "color": "#d9d9d9", "yOffset": 5}, "encoding": {"y": {"datum": "line", "type": "nominal", "scale": {"type": "point", "domain": ["line","grp"], "range": [1794, 1856], "padding": 0}, "axis": null}}},
      {"mark": {"type": "tick", "orient": "horizontal", "size": 132, "thickness": 6, "color": "#000"}, "encoding": {"y": {"datum": "line", "type": "nominal"}}},
      {"mark": {"type": "text", "fontSize": 45, "fontWeight": "bold", "baseline": "alphabetic", "lineBreak": "\n", "lineHeight": 52}, "encoding": {"y": {"datum": "grp", "type": "nominal"}, "text": {"field": "lab"}}}
    ]
  }
]
}
